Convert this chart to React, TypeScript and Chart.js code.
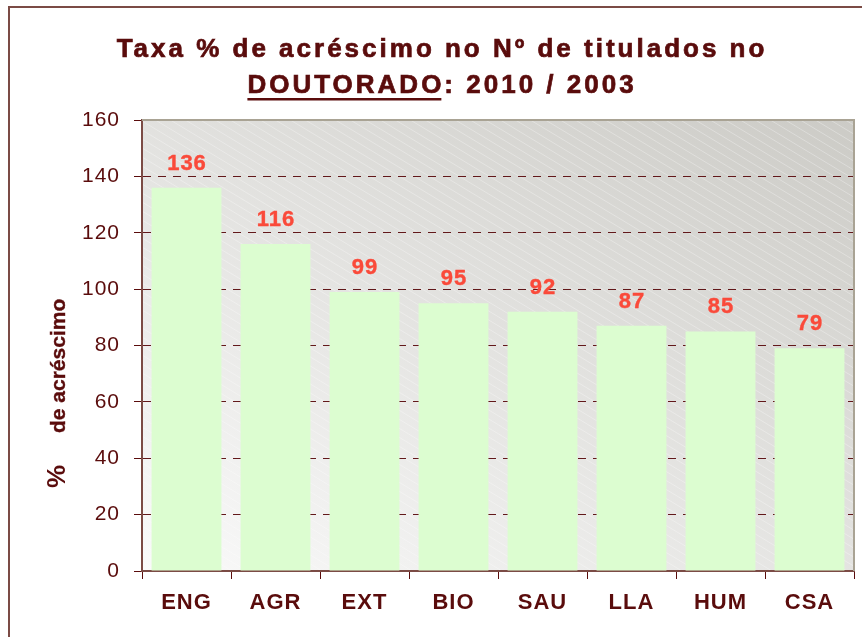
import { useEffect, useRef } from "react";
import { Chart, registerables } from "chart.js";

Chart.register(...registerables);

const categories = ["ENG", "AGR", "EXT", "BIO", "SAU", "LLA", "HUM", "CSA"];
const values = [136, 116, 99, 95, 92, 87, 85, 79];
const yTicks = [0, 20, 40, 60, 80, 100, 120, 140, 160];
const titleLine1 = "Taxa % de acréscimo no Nº de titulados no";
const titleUnderlined = "DOUTORADO";
const titleRest = ": 2010 / 2003";
const yTitlePercent = "%";
const yTitleText = "de acréscimo";

const FONT = '"Liberation Sans", Arial, Helvetica, sans-serif';
const MAROON = "#5a0c0c";
const AXIS = "#7b4b45";

const decorPlugin = {
  id: "decor",
  beforeUpdate(chart: any) {
    chart.ctx.letterSpacing = "1px";
  },
  beforeDraw(chart: any) {
    const { ctx, chartArea } = chart;
    const { left, top, right, bottom } = chartArea;
    const w = right - left;
    const h = bottom - top;
    ctx.letterSpacing = "1px";
    ctx.save();
    const g = ctx.createLinearGradient(right, top, right - 0.52 * w, top + 1.435 * h);
    g.addColorStop(0, "#cccbc6");
    g.addColorStop(1, "#fafafa");
    ctx.fillStyle = g;
    ctx.fillRect(left, top, w, h);
    ctx.beginPath();
    ctx.rect(left, top, w, h);
    ctx.clip();
    ctx.strokeStyle = "rgba(255,255,255,0.3)";
    ctx.lineWidth = 1;
    ctx.beginPath();
    const run = h / 0.6;
    for (let x0 = left - run; x0 < right; x0 += 15) {
      ctx.moveTo(x0, top);
      ctx.lineTo(x0 + run, bottom);
    }
    ctx.stroke();
    ctx.restore();
  },
  afterDatasetsDraw(chart: any) {
    const { ctx, chartArea } = chart;
    const { left, top, right, bottom } = chartArea;
    ctx.save();
    ctx.fillStyle = "#a9a394";
    ctx.fillRect(left, top - 1, right - left + 1, 2);
    ctx.fillRect(right - 1, top - 1, 2, bottom - top + 1);
    const meta = chart.getDatasetMeta(0);
    ctx.fillStyle = "#fa4a3a";
    ctx.strokeStyle = "#fa4a3a";
    ctx.lineWidth = 0.4;
    ctx.font = `bold 22px ${FONT}`;
    ctx.letterSpacing = "1px";
    ctx.textAlign = "center";
    ctx.textBaseline = "middle";
    meta.data.forEach((bar: any, i: number) => {
      ctx.fillText(String(values[i]), bar.x + 0.5, bar.y - 24);
      ctx.strokeText(String(values[i]), bar.x + 0.5, bar.y - 24);
    });
    ctx.restore();
  },
  afterDraw(chart: any) {
    const { ctx } = chart;
    ctx.save();
    ctx.fillStyle = AXIS;
    ctx.fillRect(8, 6, chart.width - 8, 2);
    ctx.fillRect(8, 6, 2, chart.height - 6);
    // title
    ctx.fillStyle = MAROON;
    ctx.strokeStyle = MAROON;
    ctx.lineWidth = 0.7;
    ctx.font = `bold 26px ${FONT}`;
    ctx.letterSpacing = "3px";
    ctx.textBaseline = "alphabetic";
    ctx.textAlign = "left";
    const cx = 442;
    const w0 = ctx.measureText(titleLine1).width;
    ctx.fillText(titleLine1, cx - w0 / 2, 57);
    ctx.strokeText(titleLine1, cx - w0 / 2, 57);
    const w1 = ctx.measureText(titleUnderlined).width;
    const w2 = ctx.measureText(titleRest).width;
    const x0 = cx - (w1 + w2) / 2;
    ctx.fillText(titleUnderlined, x0, 93);
    ctx.strokeText(titleUnderlined, x0, 93);
    ctx.fillText(titleRest, x0 + w1, 93);
    ctx.strokeText(titleRest, x0 + w1, 93);
    ctx.fillRect(x0, 98, w1 - 3, 2.5);
    // y axis title
    ctx.translate(65, 0);
    ctx.rotate(-Math.PI / 2);
    ctx.letterSpacing = "0px";
    ctx.lineWidth = 0.4;
    ctx.font = `bold 26px ${FONT}`;
    ctx.fillText(yTitlePercent, -488, 0);
    ctx.font = `bold 21px ${FONT}`;
    ctx.fillText(yTitleText, -433, 0);
    ctx.strokeText(yTitleText, -433, 0);
    ctx.restore();
  },
};

export default function App() {
  const ref = useRef<HTMLCanvasElement>(null);
  useEffect(() => {
    const chart = new Chart(ref.current!, {
      type: "bar",
      data: {
        labels: categories,
        datasets: [
          {
            data: values,
            backgroundColor: "#dcfdd0",
            borderWidth: 0,
            barPercentage: 0.785,
            categoryPercentage: 1,
          },
        ],
      },
      options: {
        responsive: false,
        devicePixelRatio: 1,
        animation: false,
        layout: { padding: { left: 0, top: 120, right: 8, bottom: 0 } },
        plugins: {
          legend: { display: false },
          title: { display: false },
          tooltip: { enabled: false },
        },
        scales: {
          x: {
            afterFit: (s: any) => {
              s.height = 66;
            },
            grid: {
              offset: true,
              drawOnChartArea: false,
              drawTicks: true,
              tickLength: 8,
              color: MAROON,
              tickColor: MAROON,
            },
            border: { color: AXIS, width: 2 },
            ticks: {
              color: MAROON,
              padding: 11,
              font: { family: FONT, size: 22, weight: "bold" },
            },
          },
          y: {
            min: 0,
            max: 160,
            afterFit: (s: any) => {
              s.width = 142;
            },
            afterBuildTicks: (s: any) => {
              s.ticks = yTicks.map((v) => ({ value: v }));
            },
            grid: {
              color: (c: any) =>
                c.tick && (c.tick.value === 0 || c.tick.value === 160) ? "rgba(0,0,0,0)" : "#62181a",
              tickColor: MAROON,
              tickLength: 8,
              lineWidth: 1,
            },
            border: { color: AXIS, width: 2, dash: [8, 7] },
            ticks: {
              color: MAROON,
              padding: 14,
              font: { family: FONT, size: 21 },
            },
          },
        },
      },
      plugins: [decorPlugin],
    } as any);
    return () => chart.destroy();
  }, []);
  return (
    <canvas
      ref={ref}
      width={862}
      height={637}
      style={{ position: "absolute", left: 0, top: 0, width: 862, height: 637 }}
    />
  );
}
